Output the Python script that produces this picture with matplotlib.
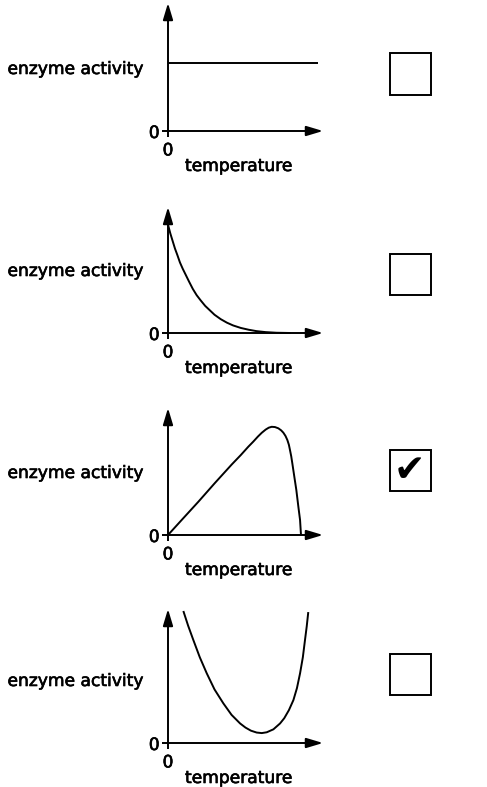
import matplotlib
matplotlib.use("Agg")
import matplotlib.pyplot as plt
import matplotlib.patheffects as pe
from matplotlib.patches import Rectangle

W, H = 487, 787

# curves (temperature 0-10, activity 0-10)
p1_temp = [0, 9.7]
p1_act = [5.3, 5.3]

p2_temp = [0, 0.15, 0.3, 0.45, 0.6, 0.77, 0.95, 1.15, 1.35, 1.6, 1.85, 2.1, 2.4, 2.7, 3.0,
           3.4, 3.8, 4.2, 4.7, 5.2, 5.7, 6.3, 7.0, 7.9]
p2_act = [8.6, 7.9, 7.3, 6.7, 6.2, 5.6, 5.1, 4.6, 4.1, 3.5, 3.0, 2.6, 2.15, 1.8, 1.45,
          1.1, 0.82, 0.6, 0.4, 0.26, 0.15, 0.07, 0.02, 0.0]

p3_temp = [0, 0.88, 1.96, 3.03, 4.11, 4.7, 5.18, 5.5, 5.8, 6.05, 6.3, 6.5, 6.69, 6.9, 7.12, 7.3,
           7.44, 7.58, 7.70, 7.8, 7.87, 7.95, 8.02, 8.15, 8.28, 8.41, 8.52, 8.58]
p3_act = [0, 1.18, 2.62, 4.1, 5.55, 6.3, 6.95, 7.35, 7.75, 8.05, 8.3, 8.45, 8.52, 8.5, 8.4, 8.24,
          8.06, 7.8, 7.48, 7.1, 6.69, 6.2, 5.65, 4.59, 3.54, 2.23, 1.18, 0]

p4_temp = [0.99, 1.3, 1.63, 2.05, 2.5, 3.0, 3.57, 4.1, 4.65, 5.0, 5.35, 5.72, 6.05, 6.37, 6.8,
           7.23, 7.5, 7.8, 8.09, 8.32, 8.52, 8.7, 8.84, 8.95, 9.05]
p4_act = [9.85, 8.75, 7.7, 6.4, 5.2, 4.0, 2.96, 2.1, 1.46, 1.15, 0.92, 0.78, 0.74, 0.8, 1.02,
          1.46, 1.85, 2.45, 3.2, 4.1, 5.2, 6.4, 7.7, 8.7, 9.77]

curves = [(p1_temp, p1_act), (p2_temp, p2_act), (p3_temp, p3_act), (p4_temp, p4_act)]
answers = [False, False, True, False]

ylabel = "enzyme activity"
xlabel = "temperature"

# pixel layout: (baseline, top of arrow, checkbox centre)
panels = [(131, 3, 74), (333, 207, 274.5), (535, 408, 470.5), (743, 609, 674)]

plt.rcParams['font.family'] = ['DejaVu Sans']
fig = plt.figure(figsize=(W / 100, H / 100), dpi=100)

LW = 1.4
FS = 12.3
heavy = [pe.withStroke(linewidth=0.45, foreground="black")]

for (temp, act), ans, (base, top, cy) in zip(curves, answers, panels):
    ax = fig.add_axes([168 / W, 1 - base / H, 155 / W, (base - top) / H])
    ax.set_xlim(0, 10)
    ax.set_ylim(0, 10)
    for s in ax.spines.values():
        s.set_visible(False)
    ax.patch.set_alpha(0)

    ax.plot(temp, act, color="black", lw=LW, clip_on=False, solid_capstyle="butt",
            solid_joinstyle="round")

    arrow = dict(arrowstyle="-|>,head_length=1.0,head_width=0.3", color="black",
                 lw=LW, shrinkA=0, shrinkB=0, mutation_scale=10)
    ax.annotate("", xy=(1, 0), xytext=(0, 0), xycoords="axes fraction", arrowprops=arrow)
    ax.annotate("", xy=(0, 1), xytext=(0, 0), xycoords="axes fraction", arrowprops=arrow)

    ax.set_xticks([0])
    ax.set_yticks([0])
    ax.tick_params(direction="out", length=4, width=LW, pad=2, labelsize=FS, color="black")
    ax.tick_params(axis="x", pad=3.5)
    for lab in ax.get_xticklabels() + ax.get_yticklabels():
        lab.set_path_effects(heavy)

    ax.text(-24 / 155, 62 / (base - top), ylabel, transform=ax.transAxes,
            ha="right", va="center", fontsize=FS, path_effects=heavy)
    ax.text(71 / 155, -35 / (base - top), xlabel, transform=ax.transAxes,
            ha="center", va="center", fontsize=FS, path_effects=heavy)

    # answer box
    box = Rectangle((390 / W, 1 - (cy + 20.5) / H), 41 / W, 41 / H, transform=fig.transFigure,
                    fill=False, edgecolor="black", lw=1.4)
    fig.add_artist(box)
    if ans:
        fig.text(409.5 / W, 1 - (cy + 0.5) / H, "\u2714", ha="center", va="center",
                 fontsize=27, color="black")

fig.savefig("out.png", dpi=100, facecolor="white")
